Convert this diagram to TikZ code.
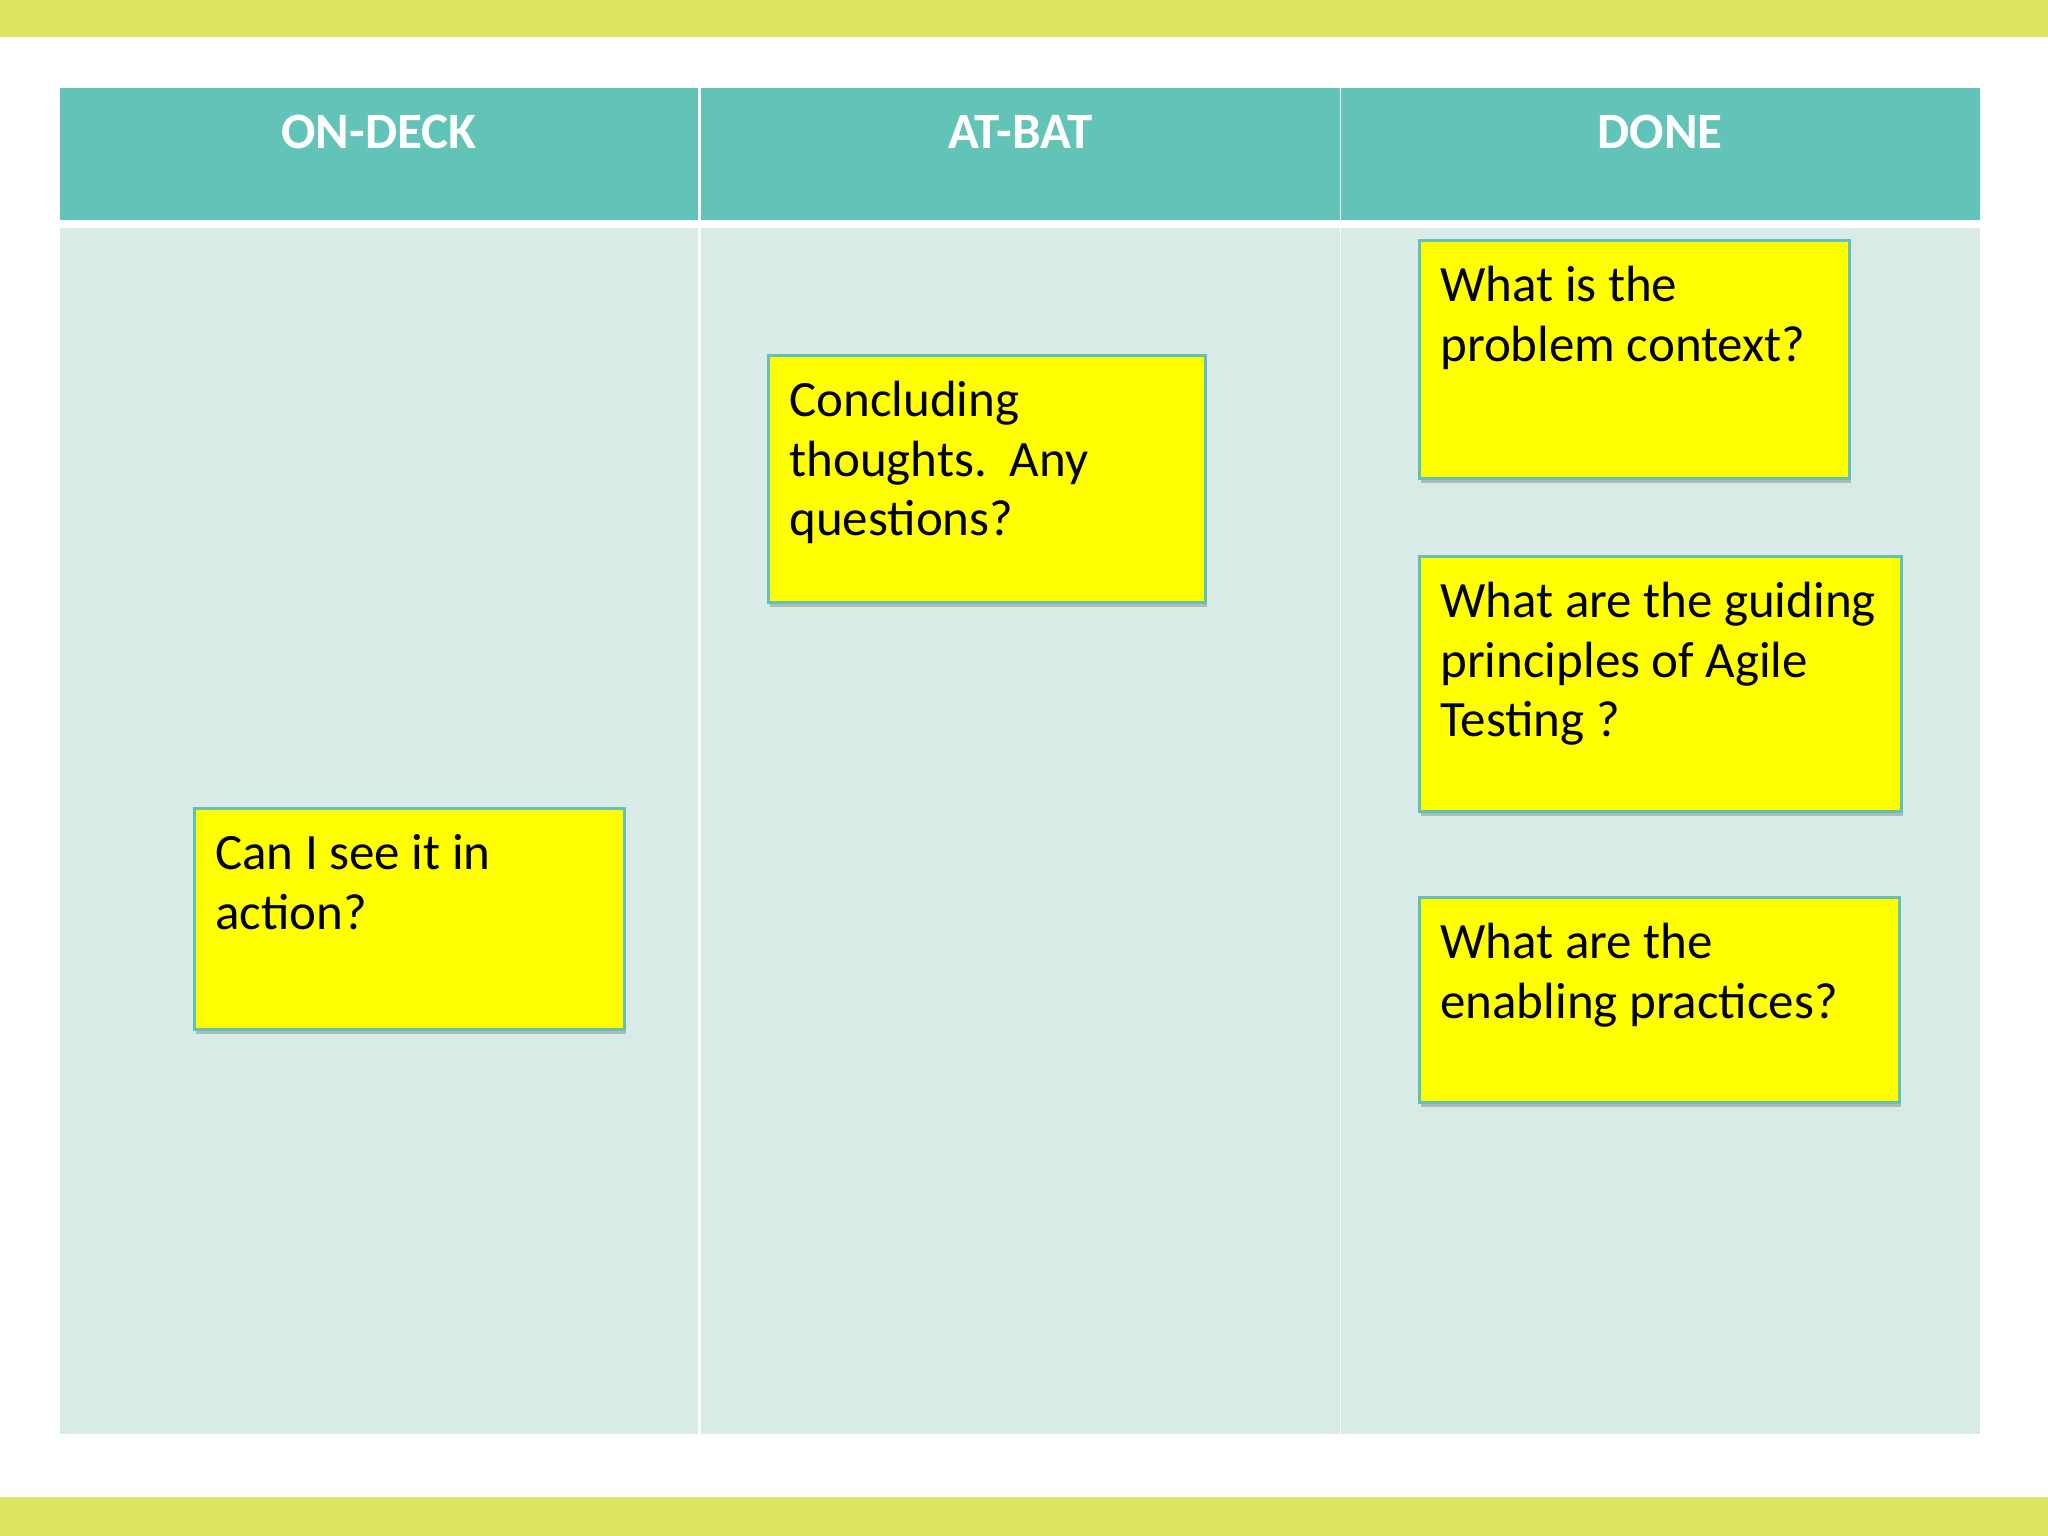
\documentclass[tikz,border=0pt]{standalone}
\usepackage{fontspec}
\setmainfont{Carlito}
\usetikzlibrary{shadows}
\frenchspacing

\definecolor{bandgreen}{RGB}{221,228,98}
\definecolor{headteal}{RGB}{98,196,184}
\definecolor{lanebg}{RGB}{217,235,230}
\definecolor{cardedge}{RGB}{98,192,184}
\definecolor{cardfill}{RGB}{255,255,0}

\begin{document}
\begin{tikzpicture}[
  head/.style={fill=headteal, text=white, anchor=north west, inner sep=0pt,
    font=\fontsize{14.5pt}{17pt}\selectfont\bfseries,
    minimum width=6.385cm, text height=0.605cm, text depth=0.714cm},
  lane/.style={fill=lanebg, anchor=north west, inner sep=0pt,
    minimum width=6.385cm, minimum height=12.06cm},
  card/.style={fill=cardfill, draw=cardedge, line width=0.8pt, anchor=north west,
    align=flush left, inner xsep=0.21cm, inner ysep=0.25cm, text height=0.36cm,
    font=\fontsize{14.5pt}{17pt}\selectfont,
    drop shadow={shadow xshift=0.02cm, shadow yshift=-0.05cm, fill=black, opacity=0.2}}]
\useasboundingbox (0,0) rectangle (20.48,15.36);
\fill[white] (0,0) rectangle (20.48,15.36);

% bands
\fill[bandgreen] (0,14.994) rectangle (20.48,15.36);
\fill[bandgreen] (0,0) rectangle (20.48,0.39);

% headers
\node [head] (ondeck) at (0.588,14.485) {ON-DECK};
\node [head] (atbat) at (7.003,14.485) {AT-BAT};
\node [head] (done) at (13.403,14.485) {DONE};

% lanes
\node [lane] (laneA) at (0.588,13.09) {};
\node [lane] (laneB) at (7.003,13.09) {};
\node [lane] (laneC) at (13.403,13.09) {};

% cards
\node [card, text width=3.88cm, text depth=1.35cm] (action) at (1.93,7.29)
  {Can I see it in\\action?};
\node [card, text width=3.95cm, text depth=1.61cm] (concl) at (7.67,11.82)
  {Concluding\\thoughts.\ \ Any\\questions?};
\node [card, text width=3.88cm, text depth=1.52cm] (context) at (14.18,12.97)
  {What is the\\problem context?};
\node [card, text width=4.40cm, text depth=1.69cm] (principles) at (14.18,9.81)
  {What are the guiding\\principles of Agile\\Testing ?};
\node [card, text width=4.38cm, text depth=1.19cm] (practices) at (14.18,6.40)
  {What are the\\enabling practices?};
\end{tikzpicture}
\end{document}
